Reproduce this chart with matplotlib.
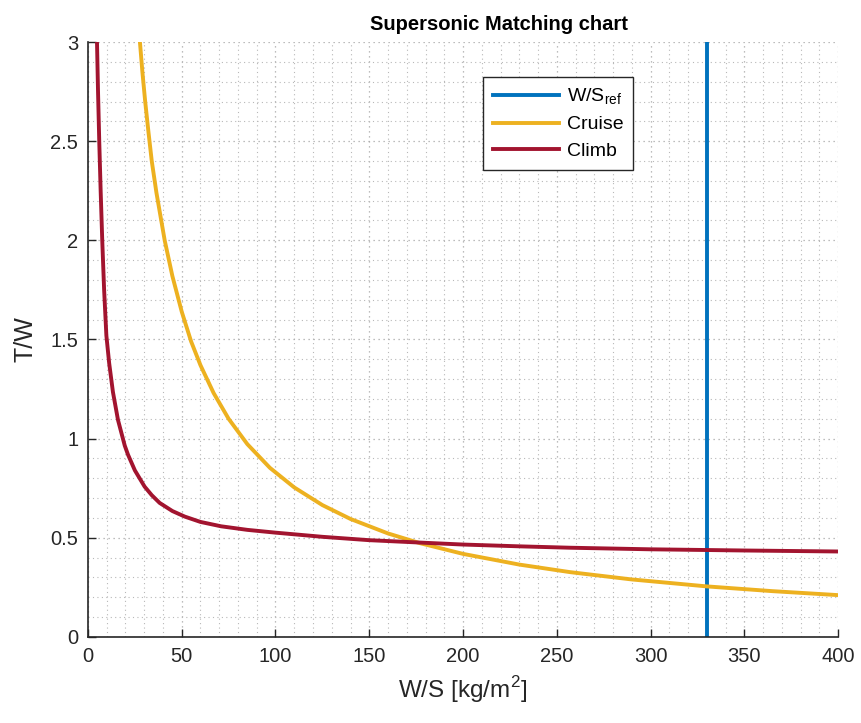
import numpy as np
import matplotlib.pyplot as plt
from matplotlib.ticker import MultipleLocator

# reference wing loading
ws_ref = 330

# cruise constraint
cruise_ws = [27.7, 29, 30.5, 32.2, 34, 36.5, 40.9, 45, 50, 55, 60, 67, 75, 85,
             97, 110, 125, 140, 160, 177, 200, 230, 257, 290, 330, 365, 400]
cruise_tw = [3.0, 2.85, 2.7, 2.55, 2.4, 2.24, 2.0, 1.82, 1.64, 1.49, 1.37, 1.23,
             1.1, 0.972, 0.853, 0.754, 0.665, 0.595, 0.522, 0.473, 0.419, 0.365,
             0.327, 0.29, 0.255, 0.231, 0.211]

# climb constraint
climb_ws = [4.8, 5.35, 6.0, 6.75, 7.6, 8.6, 9.8, 11.3, 13.3, 16, 19.6, 21.3, 25,
            30.2, 34, 38.2, 45, 51.6, 60, 71, 85, 100, 125, 150, 177, 200, 230,
            257, 300, 350, 400]
climb_tw = [3.0, 2.75, 2.5, 2.25, 2.0, 1.75, 1.52, 1.38, 1.235, 1.094, 0.965,
            0.92, 0.84, 0.758, 0.715, 0.676, 0.635, 0.607, 0.58, 0.558, 0.54,
            0.526, 0.505, 0.488, 0.476, 0.466, 0.457, 0.45, 0.442, 0.436, 0.431]

plt.rcParams['font.family'] = ['Liberation Sans', 'DejaVu Sans']

fig = plt.figure(figsize=(8.61, 7.23), dpi=100)
ax = fig.add_axes([0.1022, 0.119, 0.8711, 0.8229])

ax.axvline(ws_ref, color='#0072BD', lw=2.8, label='W/S$_{\\mathregular{ref}}$')
ax.plot(cruise_ws, cruise_tw, color='#EDB120', lw=2.8, label='Cruise')
ax.plot(climb_ws, climb_tw, color='#A2142F', lw=2.8, label='Climb')

ax.set_xlim(0, 400)
ax.set_ylim(0, 3)
ax.xaxis.set_major_locator(MultipleLocator(50))
ax.xaxis.set_minor_locator(MultipleLocator(10))
ax.yaxis.set_major_locator(MultipleLocator(0.5))
ax.yaxis.set_minor_locator(MultipleLocator(0.1))
ax.yaxis.set_major_formatter(plt.FuncFormatter(lambda v, p: f'{v:g}'))

ax.grid(which='major', color='#a8a8a8', ls=(0, (1, 3)), lw=0.9)
ax.grid(which='minor', color='#b8b8b8', ls=(0, (1, 3)), lw=0.8)
ax.set_axisbelow(True)

ax.spines['top'].set_visible(False)
ax.spines['right'].set_visible(False)
for s in ['left', 'bottom']:
    ax.spines[s].set_color('#262626')
    ax.spines[s].set_linewidth(1.2)
ax.tick_params(which='major', direction='in', length=6, width=1, colors='#262626',
               labelsize=14.5, pad=7)
ax.tick_params(which='minor', length=0)

ax.set_xlabel('W/S [kg/m$^{\\mathregular{2}}$]', fontsize=17.5, color='#262626',
              labelpad=6)
ax.set_ylabel('T/W', fontsize=18, color='#262626', labelpad=9)
ax.set_title('Supersonic Matching chart', fontsize=14.5, fontweight='bold',
             pad=9, x=0.548)

leg = ax.legend(loc='upper left', bbox_to_anchor=(0.5267, 0.941), fontsize=14,
                fancybox=False, edgecolor='#262626', framealpha=1,
                borderaxespad=0, handlelength=3.4, handletextpad=0.4,
                borderpad=0.5, labelspacing=0.45)
leg.get_frame().set_linewidth(1.0)

fig.savefig('out.png', dpi=100)
